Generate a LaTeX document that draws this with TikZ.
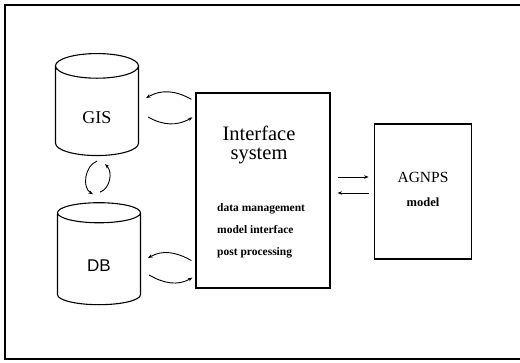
\documentclass[tikz,border=0pt]{standalone}
\usepackage{fontspec}
\setmainfont{Liberation Serif}
\setsansfont{Liberation Sans}
\usetikzlibrary{arrows.meta,positioning,shapes.geometric}

\begin{document}
\begin{tikzpicture}[
  x=1pt, y=1pt,
  frame/.style ={draw, line width=1.6pt},
  box/.style   ={draw, line width=1.2pt, inner sep=0pt},
  cyl/.style   ={draw, line width=1.1pt, cylinder, shape border rotate=90, aspect=0.85,
                 minimum width=83pt, minimum height=102pt, inner sep=0pt,
                 text height=25pt, text depth=0pt},
  arr/.style   ={-{Stealth[length=4.5pt,width=3.5pt]}, line width=0.9pt},
  note/.style  ={font=\fontsize{11.5}{22}\selectfont\bfseries, align=left, inner sep=0pt}
]
\useasboundingbox (0,0) rectangle (520,363);
\draw[frame] (528,358) -- (5,358) -- (5,4) -- (528,4);

% the two stores on the left
\node[cyl] (gis) at (97,252) {\fontsize{18}{18}\selectfont GIS};
\node[cyl] (db)  at (99,104) {\fontsize{17}{17}\selectfont\sffamily DB};

% interface and model
\node[box, minimum width=134pt, minimum height=195pt] (iface) at (263,172.5) {};
\node[font=\fontsize{20.5}{19}\selectfont, align=center, inner sep=0pt] (ititle) at (259,218)
  {Interface\\system};
\node[note, anchor=north west] (ilist) at (217,160)
  {data management\\model interface\\post processing};
\node[box, minimum width=97pt, minimum height=135pt, right=43pt of iface.east, anchor=west,
      yshift=-1pt] (agnps) {};
\node[font=\fontsize{15.5}{15.5}\selectfont, inner sep=0pt] (atitle) at (423,186) {AGNPS};
\node[font=\fontsize{12.5}{12.5}\selectfont\bfseries, inner sep=0pt] (amodel) at (423,161) {model};

% exchange between stores and interface
\draw[arr] ([xshift=-4pt,yshift=-7pt]iface.north west) to[out=150,in=30] ([xshift=7pt,yshift=13pt]gis.east);
\draw[arr] ([xshift=9pt,yshift=-6pt]gis.east) to[out=-30,in=-150] ([xshift=-3pt,yshift=-25pt]iface.north west);
\draw[arr] ([xshift=-4pt,yshift=28pt]iface.south west) to[out=150,in=30] ([xshift=7pt,yshift=1pt]db.east);
\draw[arr] ([xshift=8pt,yshift=-16pt]db.east) to[out=-30,in=-150] ([xshift=-3pt,yshift=11pt]iface.south west);
\draw[arr] ([yshift=-5pt]gis.south) to[out=200,in=150] ([xshift=-6pt,yshift=8pt]db.north);
\draw[arr] ([xshift=1pt,yshift=10pt]db.north) to[out=20,in=-45] ([xshift=8pt,yshift=-8pt]gis.south);

% exchange with the model
\draw[arr] ([xshift=7pt,yshift=13.5pt]iface.east) -- ([xshift=-5pt,yshift=14.5pt]agnps.west);
\draw[arr] ([xshift=-5pt,yshift=-1.5pt]agnps.west) -- ([xshift=7pt,yshift=-2.5pt]iface.east);
\end{tikzpicture}
\end{document}
